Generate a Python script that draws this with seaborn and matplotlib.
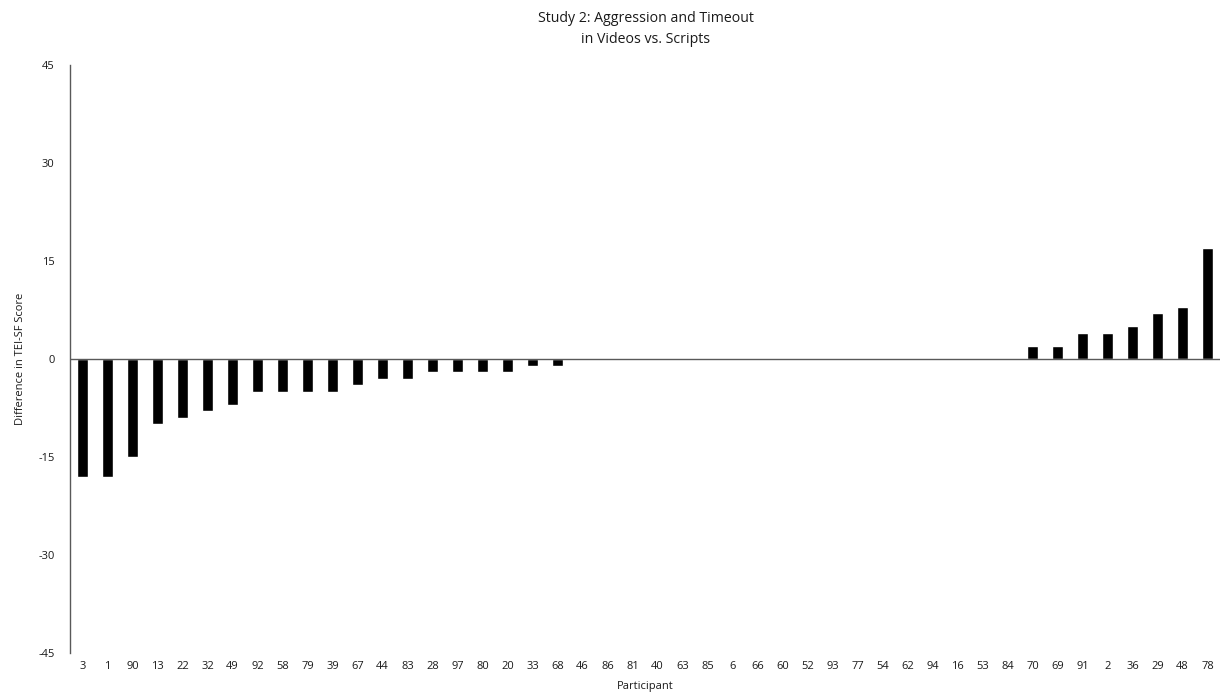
import matplotlib
matplotlib.use("Agg")
import matplotlib.pyplot as plt
import seaborn as sns
import pandas as pd

participants = ["3", "1", "90", "13", "22", "32", "49", "92", "58", "79",
                "39", "67", "44", "83", "28", "97", "80", "20", "33", "68",
                "46", "86", "81", "40", "63", "85", "6", "66", "60", "52",
                "93", "77", "54", "62", "94", "16", "53", "84",
                "70", "69", "91", "2", "36", "29", "48", "78"]
differences = [-18, -18, -15, -10, -9, -8, -7, -5, -5, -5,
               -5, -4, -3, -3, -2, -2, -2, -2, -1, -1,
               0, 0, 0, 0, 0, 0, 0, 0, 0, 0,
               0, 0, 0, 0, 0, 0, 0, 0,
               2, 2, 4, 4, 5, 7, 8, 17]
y_ticks = [-45, -30, -15, 0, 15, 30, 45]

df = pd.DataFrame({"Participant": participants, "Difference": differences})

sns.set_theme(style="white")
plt.rcParams["font.family"] = ["Open Sans", "DejaVu Sans"]

text_color = "#1a1a1a"

fig = plt.figure(figsize=(12.25, 6.98), dpi=100)
ax = fig.add_axes([70 / 1225, 1 - 653 / 698, 1150 / 1225, 588 / 698])

sns.barplot(data=df, x="Participant", y="Difference", order=participants,
            color="black", width=0.42, saturation=1, ax=ax)

ax.set_xlim(-0.5, len(participants) - 0.5)
ax.set_ylim(-45, 45)
ax.set_yticks(y_ticks)
ax.set_yticklabels([str(t) for t in y_ticks])

# zero line acts as the category axis; labels stay at the bottom
ax.axhline(0, color="#595959", lw=1.0, zorder=3)
for side in ("top", "right", "bottom"):
    ax.spines[side].set_visible(False)
ax.spines["left"].set_color("#595959")
ax.spines["left"].set_linewidth(1.0)

ax.tick_params(axis="x", length=0, pad=6, labelsize=8, colors=text_color)
ax.tick_params(axis="y", length=0, pad=11, labelsize=8, colors=text_color)

ax.set_xlabel("Participant", fontsize=8, color=text_color, labelpad=6)
ax.set_ylabel("Difference in TEI-SF Score", fontsize=8, color=text_color,
              labelpad=9)

fig.text(0.527, 1 - 29 / 698, "Study 2: Aggression and Timeout\nin Videos vs. Scripts",
         ha="center", va="center", fontsize=10.2, color=text_color, linespacing=1.5)

fig.savefig("out.png", dpi=100)
